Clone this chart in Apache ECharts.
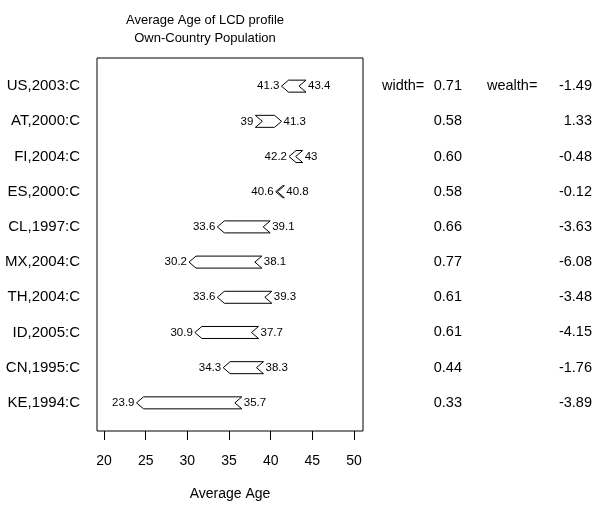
<!DOCTYPE html>
<html>
<head>
<meta charset="utf-8">
<script src="https://cdn.jsdelivr.net/npm/echarts@6/dist/echarts.min.js"></script>
<style>
  html, body { margin: 0; padding: 0; background: #fff; }
  #chart { width: 595px; height: 506px; }
</style>
</head>
<body>
<div id="chart"></div>
<script>
var rows = ['US,2003:C', 'AT,2000:C', 'FI,2004:C', 'ES,2000:C', 'CL,1997:C',
            'MX,2004:C', 'TH,2004:C', 'ID,2005:C', 'CN,1995:C', 'KE,1994:C'];
// arrow goes from ageFrom to ageTo
var ageFrom = [43.4, 39, 43, 40.8, 39.1, 38.1, 39.3, 37.7, 38.3, 35.7];
var ageTo = [41.3, 41.3, 42.2, 40.6, 33.6, 30.2, 33.6, 30.9, 34.3, 23.9];
var widths = [0.71, 0.58, 0.60, 0.58, 0.66, 0.77, 0.61, 0.61, 0.44, 0.33];
var wealth = [-1.49, 1.33, -0.48, -0.12, -3.63, -6.08, -3.48, -4.15, -1.76, -3.89];
var xTicks = [20, 25, 30, 35, 40, 45, 50];
var rowTicks = [1, 2, 3, 4, 5, 6, 7, 8, 9, 10];

var font = 'Liberation Sans, Arial, Helvetica, sans-serif';

var arrowData = [];
var sideData = [];
for (var i = 0; i < rows.length; i++) {
    arrowData.push([i + 1, ageFrom[i], ageTo[i]]);
    sideData.push([i + 1, widths[i], wealth[i]]);
}

var chart = echarts.init(document.getElementById('chart'), null, { renderer: 'canvas' });

chart.setOption({
    animation: false,
    title: {
        text: 'Average Age of LCD profile\nOwn-Country Population',
        left: 200,
        top: 6,
        textAlign: 'center',
        textStyle: { fontFamily: font, fontSize: 13, fontWeight: 'normal', color: '#000', lineHeight: 18 }
    },
    grid: {
        left: 97, right: 232, top: 58, bottom: 72,
        show: true, borderColor: '#000', borderWidth: 1, backgroundColor: 'transparent'
    },
    xAxis: {
        type: 'value',
        min: 19.16,
        max: 51.08,
        name: 'Average Age',
        nameLocation: 'middle',
        nameGap: 56,
        nameTextStyle: { fontFamily: font, fontSize: 14, color: '#000' },
        axisLine: { show: false },
        splitLine: { show: false },
        axisTick: { show: true, customValues: xTicks, length: 9, lineStyle: { color: '#000' } },
        axisLabel: { customValues: xTicks, margin: 23, fontFamily: font, fontSize: 14, color: '#000' }
    },
    yAxis: {
        type: 'value',
        min: 0.2,
        max: 10.8,
        inverse: true,
        axisLine: { show: false },
        axisTick: { show: false },
        splitLine: { show: false },
        axisLabel: {
            customValues: rowTicks,
            margin: 17,
            fontFamily: font, fontSize: 15, color: '#000',
            formatter: function (v) { return rows[Math.round(v) - 1] || ''; }
        }
    },
    series: [{
        type: 'custom',
        silent: true,
        data: arrowData,
        encode: { x: [1, 2], y: 0 },
        renderItem: function (params, api) {
            var row = api.value(0);
            var vFrom = api.value(1);
            var vTo = api.value(2);
            var pFrom = api.coord([vFrom, row]);
            var pTo = api.coord([vTo, row]);
            var y = pFrom[1];
            var d = 7, h = 6;
            var s = vFrom > vTo ? 1 : -1;   // 1 = pointing left
            var xf = pFrom[0], xt = pTo[0];
            var pts = [
                [xt, y], [xt + s * d, y - h], [xf + s * d, y - h],
                [xf, y], [xf + s * d, y + h], [xt + s * d, y + h]
            ];
            var leftX = s > 0 ? xt : xf - d;
            var rightX = s > 0 ? xf + d : xt;
            var lo = Math.min(vFrom, vTo), hi = Math.max(vFrom, vTo);
            return {
                type: 'group',
                children: [{
                    type: 'polygon',
                    shape: { points: pts },
                    style: { fill: '#fff', stroke: '#000', lineWidth: 1 }
                }, {
                    type: 'text',
                    style: {
                        x: leftX - 2, y: y, text: String(lo),
                        align: 'right', verticalAlign: 'middle',
                        font: '11.5px ' + font, fill: '#000'
                    }
                }, {
                    type: 'text',
                    style: {
                        x: rightX + 2, y: y, text: String(hi),
                        align: 'left', verticalAlign: 'middle',
                        font: '11.5px ' + font, fill: '#000'
                    }
                }]
            };
        }
    }, {
        type: 'custom',
        silent: true,
        clip: false,
        data: sideData,
        encode: { y: 0 },
        renderItem: function (params, api) {
            var row = api.value(0);
            var y = api.coord([20, row])[1];
            var f = '14.5px ' + font;
            var kids = [{
                type: 'text',
                style: { x: 462, y: y, text: api.value(1).toFixed(2), align: 'right', verticalAlign: 'middle', font: f, fill: '#000' }
            }, {
                type: 'text',
                style: { x: 592, y: y, text: api.value(2).toFixed(2), align: 'right', verticalAlign: 'middle', font: f, fill: '#000' }
            }];
            if (params.dataIndex === 0) {
                kids.push({
                    type: 'text',
                    style: { x: 382, y: y, text: 'width=', align: 'left', verticalAlign: 'middle', font: f, fill: '#000' }
                });
                kids.push({
                    type: 'text',
                    style: { x: 487, y: y, text: 'wealth=', align: 'left', verticalAlign: 'middle', font: f, fill: '#000' }
                });
            }
            return { type: 'group', children: kids };
        }
    }]
});
</script>
</body>
</html>
